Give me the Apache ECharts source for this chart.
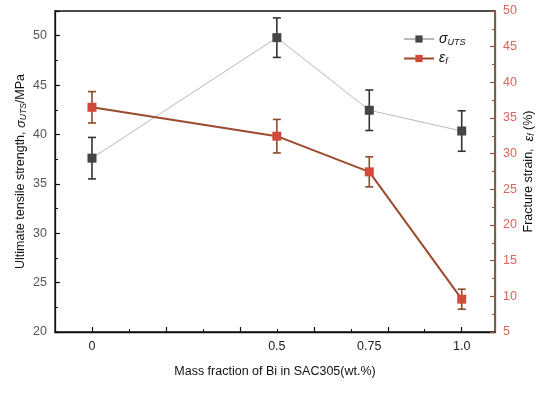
<!DOCTYPE html>
<html><head><meta charset="utf-8">
<script src="https://cdn.jsdelivr.net/npm/echarts@6/dist/echarts.min.js"></script>
<style>html,body{margin:0;padding:0;background:#fff}#c{width:550px;height:393px}</style>
</head><body><div id="c"></div>
<script>
const xValues = [0, 0.5, 0.75, 1.0];
const xLabels = ['0', '0.5', '0.75', '1.0'];
const utsValues = [37.6, 49.8, 42.45, 40.35];
const utsErr = [2.1, 2.0, 2.05, 2.05];
const strainValues = [36.5, 32.45, 27.45, 9.6];
const strainErr = [2.2, 2.35, 2.1, 1.4];
const majorTicks = [0, 0.2, 0.4, 0.6, 0.8, 1.0];
const minorTicks = [-0.1, 0.1, 0.3, 0.5, 0.7, 0.9];

const FONT = 'Liberation Sans';
const chart = echarts.init(document.getElementById('c'));

function errSeries(name, yIdx, vals, errs, color) {
  return {
    type: 'custom', name: name + '_err', yAxisIndex: yIdx, z: 1,
    data: xValues.map((x, i) => [x, vals[i] - errs[i], vals[i] + errs[i]]),
    encode: { x: 0, y: [1, 2] },
    renderItem: function (params, api) {
      const lo = api.coord([api.value(0), api.value(1)]);
      const hi = api.coord([api.value(0), api.value(2)]);
      const w = 4;
      const st = { stroke: color, lineWidth: 1.6 };
      return { type: 'group', children: [
        { type: 'line', shape: { x1: lo[0], y1: lo[1], x2: hi[0], y2: hi[1] }, style: st },
        { type: 'line', shape: { x1: lo[0] - w, y1: lo[1], x2: lo[0] + w, y2: lo[1] }, style: st },
        { type: 'line', shape: { x1: hi[0] - w, y1: hi[1], x2: hi[0] + w, y2: hi[1] }, style: st }
      ]};
    }
  };
}

const xBase = { type: 'value', min: -0.1, max: 1.09, splitLine: { show: false } };

chart.setOption({
  animation: false,
  textStyle: { fontFamily: FONT },
  grid: { left: 55, right: 55, top: 11, bottom: 61, containLabel: false, outerBoundsMode: 'none', show: true, borderColor: '#111', borderWidth: 1.3 },
  legend: {
    top: 27, left: 398, orient: 'vertical', itemGap: 5, itemWidth: 30, itemHeight: 9,
    data: ['sigma', 'eps'],
    formatter: function (n) { return n === 'sigma' ? '{i|σ}{s|UTS}' : '{i|ε}{s|f}'; },
    textStyle: { rich: {
      i: { fontFamily: FONT, fontStyle: 'italic', fontSize: 14, color: '#111' },
      s: { fontFamily: FONT, fontStyle: 'italic', fontSize: 9, color: '#111', verticalAlign: 'bottom', padding: [6, 0, 0, 0] }
    } }
  },
  xAxis: [
    Object.assign({}, xBase, {
      position: 'bottom',
      name: 'Mass fraction of Bi in SAC305(wt.%)', nameLocation: 'middle', nameGap: 33,
      nameTextStyle: { fontFamily: FONT, fontSize: 12.5, color: '#111' },
      axisLine: { show: true, onZero: false, lineStyle: { color: '#111', width: 1.3 } },
      axisTick: { show: true, inside: true, length: 5, customValues: majorTicks, lineStyle: { color: '#111', width: 1.2 } },
      axisLabel: { customValues: xValues, formatter: function (v) { const i = xValues.indexOf(v); return i >= 0 ? xLabels[i] : ''; }, fontFamily: FONT, fontSize: 12.5, color: '#222', margin: 8 }
    }),
    Object.assign({}, xBase, {
      position: 'bottom',
      axisLine: { show: false, onZero: false },
      axisTick: { show: true, inside: true, length: 3, customValues: minorTicks, lineStyle: { color: '#111', width: 1 } },
      axisLabel: { show: false }
    })
  ],
  yAxis: [
    {
      type: 'value', min: 20, max: 52.5, interval: 5, position: 'left',
      name: '{t|Ultimate tensile strength, }{i|σ}{s|UTS}{t|/MPa}', nameLocation: 'middle', nameGap: 27, nameRotate: 90, nameMoveOverlap: false,
      nameTextStyle: { rich: {
        t: { fontFamily: FONT, fontSize: 12.5, color: '#111' },
        i: { fontFamily: FONT, fontSize: 13, fontStyle: 'italic', color: '#111' },
        s: { fontFamily: FONT, fontSize: 8.5, fontStyle: 'italic', color: '#111', verticalAlign: 'bottom', padding: [5, 0, 0, 0] }
      } },
      splitLine: { show: false },
      axisLine: { show: true, onZero: false, lineStyle: { color: '#111', width: 1.3 } },
      axisTick: { show: true, inside: true, length: 5, lineStyle: { color: '#111', width: 1.2 } },
      minorTick: { show: true, splitNumber: 2, length: 3, lineStyle: { color: '#111', width: 1 } },
      axisLabel: { fontFamily: FONT, fontSize: 12.5, color: '#555', margin: 8, showMaxLabel: false }
    },
    {
      type: 'value', min: 5, max: 50, interval: 5, position: 'right',
      name: '{t|Fracture strain,  }{i|ε}{s|f}{t| (%)}', nameLocation: 'middle', nameGap: 27, nameRotate: 90, nameMoveOverlap: false,
      nameTextStyle: { rich: {
        t: { fontFamily: FONT, fontSize: 12.5, color: '#111' },
        i: { fontFamily: FONT, fontSize: 13, fontStyle: 'italic', color: '#111' },
        s: { fontFamily: FONT, fontSize: 8.5, fontStyle: 'italic', color: '#111', verticalAlign: 'bottom', padding: [5, 0, 0, 0] }
      } },
      splitLine: { show: false },
      axisLine: { show: true, onZero: false, lineStyle: { color: '#8b5a3c', width: 1.3 } },
      axisTick: { show: true, inside: true, length: 5, lineStyle: { color: '#8b5a3c', width: 1.2 } },
      minorTick: { show: true, splitNumber: 2, length: 3, lineStyle: { color: '#8b5a3c', width: 1 } },
      axisLabel: { fontFamily: FONT, fontSize: 12.5, color: '#d9665a', margin: 8 }
    }
  ],
  series: [
    errSeries('sigma', 0, utsValues, utsErr, '#333'),
    errSeries('eps', 1, strainValues, strainErr, '#8b4a2c'),
    {
      name: 'sigma', type: 'line', yAxisIndex: 0, z: 3,
      data: xValues.map((x, i) => [x, utsValues[i]]),
      symbol: 'rect', symbolSize: 9,
      lineStyle: { color: '#b8b8b8', width: 1 },
      itemStyle: { color: '#454545' }
    },
    {
      name: 'eps', type: 'line', yAxisIndex: 1, z: 4,
      data: xValues.map((x, i) => [x, strainValues[i]]),
      symbol: 'rect', symbolSize: 9,
      lineStyle: { color: '#9c4a2c', width: 2 },
      itemStyle: { color: '#d2493c' }
    }
  ]
});
</script></body></html>
